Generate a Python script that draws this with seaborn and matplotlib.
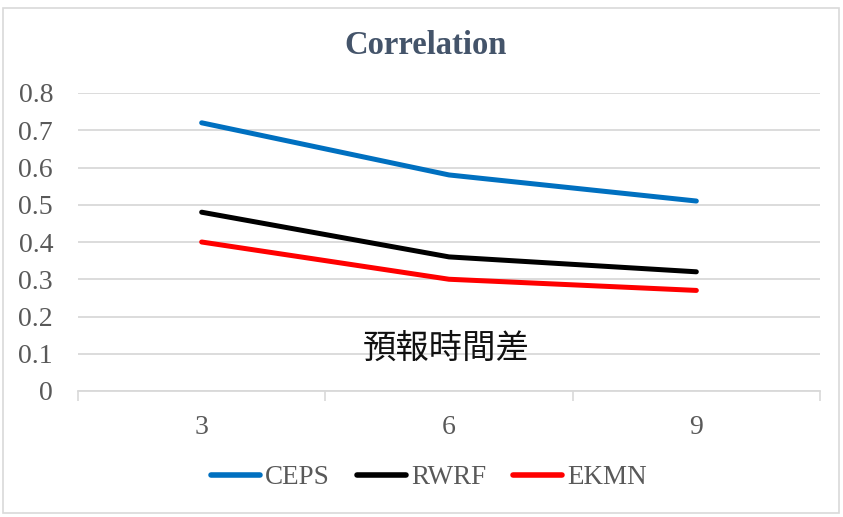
import matplotlib
matplotlib.use("Agg")
import matplotlib.pyplot as plt
import seaborn as sns
import pandas as pd
from matplotlib.patches import Rectangle

lead_times = ["3", "6", "9"]
ceps = [0.72, 0.58, 0.51]
rwrf = [0.48, 0.36, 0.32]
ekmn = [0.40, 0.30, 0.27]
series_names = ["CEPS", "RWRF", "EKMN"]
yticks = [0, 0.1, 0.2, 0.3, 0.4, 0.5, 0.6, 0.7, 0.8]
ytick_labels = ["0", "0.1", "0.2", "0.3", "0.4", "0.5", "0.6", "0.7", "0.8"]
title = "Correlation"
xlabel = "預報時間差"

rows = []
for name, vals in zip(series_names, [ceps, rwrf, ekmn]):
    for lt, v in zip(lead_times, vals):
        rows.append({"lead": lt, "corr": v, "model": name})
df = pd.DataFrame(rows)

sns.set_theme(style="white")
plt.rcParams["font.family"] = ["Liberation Serif", "DejaVu Serif"]

fig = plt.figure(figsize=(8.43, 5.17), dpi=100)
ax = fig.add_axes([78/843, 1-391/517, (820-78)/843, (391-93)/517])

palette = {"CEPS": "#0070C0", "RWRF": "#000000", "EKMN": "#FF0000"}
sns.lineplot(data=df, x="lead", y="corr", hue="model", palette=palette,
             linewidth=3.6, sort=False, ax=ax, legend=True)

ax.set_ylim(0, 0.8)
ax.set_xlim(-0.5, 2.5)
ax.set_yticks(yticks)
ax.set_yticklabels(ytick_labels)
ax.set_xticks([0, 1, 2])
ax.set_xticklabels(lead_times)
ax.set_xticks([-0.5, 0.5, 1.5, 2.5], minor=True)
ax.tick_params(axis="x", which="major", length=0, pad=17, labelsize=20, labelcolor="#595959")
ax.tick_params(axis="x", which="minor", length=7, width=1.2, color="#D9D9D9", bottom=True)
ax.tick_params(axis="y", length=0, pad=18, labelsize=20, labelcolor="#595959")
for lab in ax.get_yticklabels():
    lab.set_horizontalalignment("right")

ax.grid(axis="y", color="#D9D9D9", linewidth=1.3)
ax.set_axisbelow(True)
for s in ["left", "right", "top"]:
    ax.spines[s].set_visible(False)
ax.spines["bottom"].set_color("#D9D9D9")
ax.spines["bottom"].set_linewidth(1.3)
ax.set_xlabel("")
ax.set_ylabel("")

ax.text(446/843, 1-348/517, xlabel, transform=fig.transFigure,
        ha="center", va="center", fontsize=24, color="#111111",
        family=["Noto Sans CJK TC", "DejaVu Sans"])

fig.text(426/843, 1-46/517, title, ha="center", va="center",
         fontsize=23.5, fontweight="bold", color="#44546A")

handles, labels = ax.get_legend_handles_labels()
ax.legend(handles, labels, loc="center", bbox_to_anchor=(429/843, 1-478/517),
          bbox_transform=fig.transFigure, ncol=3, frameon=False,
          fontsize=19.5, handlelength=1.8, handletextpad=0.2, columnspacing=1.0,
          labelcolor="#595959")
for line in ax.get_legend().get_lines():
    line.set_linewidth(4)

fig.patches.append(Rectangle((3/843, 4/517), 836/843, 505/517, transform=fig.transFigure,
                             fill=False, edgecolor="#D9D9D9", linewidth=1.2))

fig.savefig("out.png", dpi=100, facecolor="white")
